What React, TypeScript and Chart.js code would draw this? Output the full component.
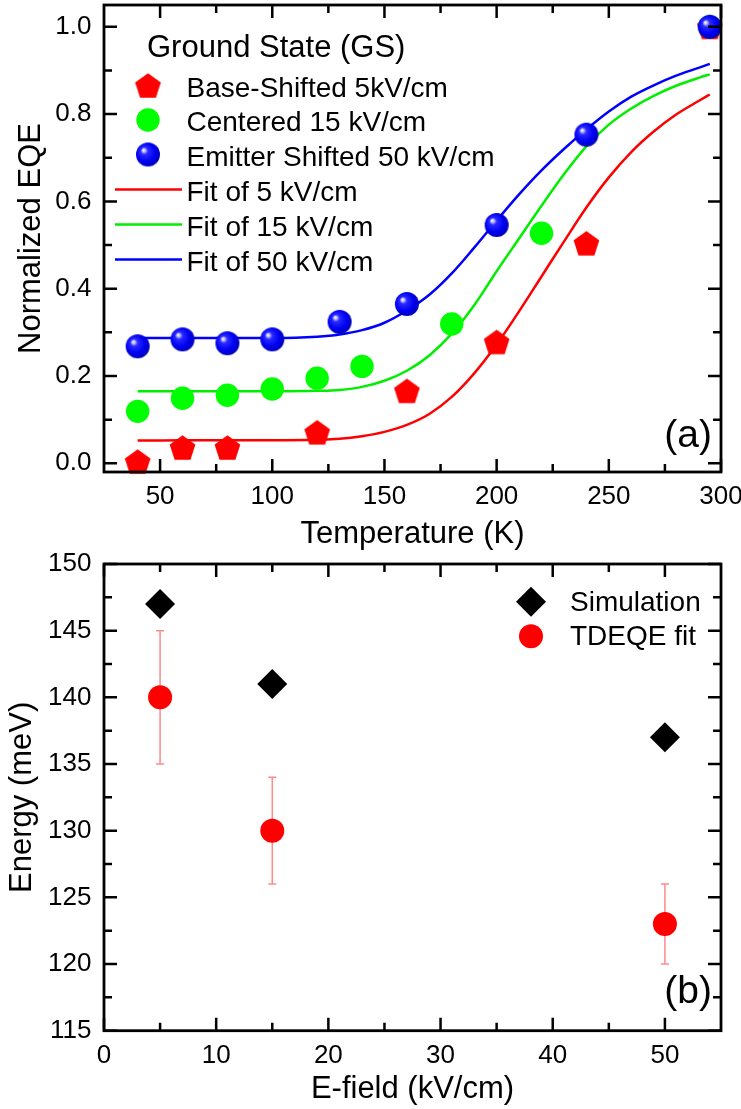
import React, { useEffect, useRef } from 'react';
import { Chart, registerables } from 'chart.js';

Chart.register(...registerables);

const FONT = '"Liberation Sans", Arial, Helvetica, sans-serif';

// ---------- Panel (a): normalized EQE vs temperature ----------
const TEMP_5 = [40, 60, 80, 120, 160, 200, 240, 295];
const EQE_5 = [0.004, 0.036, 0.036, 0.071, 0.166, 0.278, 0.504, 1.0];
const TEMP_15 = [40, 60, 80, 100, 120, 140, 180, 220, 295];
const EQE_15 = [0.119, 0.149, 0.156, 0.17, 0.195, 0.222, 0.319, 0.527, 1.0];
const TEMP_50 = [40, 60, 80, 100, 130, 160, 200, 240, 295];
const EQE_50 = [0.268, 0.284, 0.275, 0.284, 0.324, 0.365, 0.546, 0.753, 1.0];

const FIT_TEMP = [40, 60, 80, 100, 120, 130, 140, 150, 160, 170, 180, 190, 200, 210, 220, 230, 240, 250, 260, 270, 280, 290, 295];
const FIT_5 = [0.052, 0.053, 0.053, 0.053, 0.054, 0.056, 0.062, 0.072, 0.088, 0.113, 0.152, 0.206, 0.272, 0.348, 0.428, 0.508, 0.586, 0.655, 0.713, 0.76, 0.799, 0.83, 0.845];
const FIT_15 = [0.165, 0.165, 0.165, 0.165, 0.166, 0.168, 0.175, 0.189, 0.212, 0.247, 0.297, 0.362, 0.44, 0.515, 0.59, 0.662, 0.726, 0.776, 0.813, 0.842, 0.865, 0.883, 0.891];
const FIT_50 = [0.287, 0.287, 0.287, 0.287, 0.29, 0.295, 0.305, 0.322, 0.35, 0.386, 0.435, 0.494, 0.556, 0.616, 0.671, 0.72, 0.765, 0.806, 0.84, 0.866, 0.888, 0.906, 0.915];

const A_X_TICKS = [50, 100, 150, 200, 250, 300];
const A_X_MINOR = [75, 125, 175, 225, 275];
const A_Y_TICKS = [0, 0.2, 0.4, 0.6, 0.8, 1.0];
const A_Y_MINOR = [0.1, 0.3, 0.5, 0.7, 0.9];

// ---------- Panel (b): energy vs E-field ----------
const EFIELD = [5, 15, 50];
const E_SIM = [147, 141, 137];
const E_FIT = [140, 130, 123];
const E_FIT_LOW = [135, 126, 120];
const E_FIT_HIGH = [145, 134, 126];

const B_X_TICKS = [0, 10, 20, 30, 40, 50];
const B_X_MINOR = [5, 15, 25, 35, 45];
const B_Y_TICKS = [115, 120, 125, 130, 135, 140, 145, 150];
const B_Y_MINOR = [117.5, 122.5, 127.5, 132.5, 137.5, 142.5, 147.5];

const pts = (xs: number[], ys: number[]) => xs.map((x, i) => ({ x, y: ys[i] }));

function makePentagon(r: number, color: string) {
  const s = Math.ceil(r * 2 + 4);
  const c = document.createElement('canvas');
  c.width = s;
  c.height = s;
  const g = c.getContext('2d')!;
  const cx = s / 2;
  const cy = s / 2 + 0.095 * r;
  g.beginPath();
  for (let i = 0; i < 5; i++) {
    const a = -Math.PI / 2 + (i * 2 * Math.PI) / 5;
    g.lineTo(cx + r * Math.cos(a), cy + r * Math.sin(a));
  }
  g.closePath();
  g.fillStyle = color;
  g.fill();
  return c;
}

function makeSphere(r: number) {
  const s = Math.ceil(r * 2 + 2);
  const c = document.createElement('canvas');
  c.width = s;
  c.height = s;
  const g = c.getContext('2d')!;
  const cx = s / 2;
  const cy = s / 2;
  const grad = g.createRadialGradient(cx - 0.38 * r, cy - 0.38 * r, 0, cx - 0.1 * r, cy - 0.1 * r, r * 1.1);
  grad.addColorStop(0, '#ffffff');
  grad.addColorStop(0.1, '#d0d0ff');
  grad.addColorStop(0.28, '#2a2aff');
  grad.addColorStop(0.7, '#0000f4');
  grad.addColorStop(1, '#0000b8');
  g.beginPath();
  g.arc(cx, cy, r, 0, Math.PI * 2);
  g.fillStyle = grad;
  g.fill();
  return c;
}

function drawMarker(ctx: CanvasRenderingContext2D, style: any, radius: number, color: string, x: number, y: number) {
  ctx.save();
  if (style && typeof style === 'object') {
    ctx.drawImage(style, x - style.width / 2, y - style.height / 2, style.width, style.height);
  } else if (style === 'rectRot') {
    ctx.beginPath();
    ctx.moveTo(x, y - radius);
    ctx.lineTo(x + radius, y);
    ctx.lineTo(x, y + radius);
    ctx.lineTo(x - radius, y);
    ctx.closePath();
    ctx.fillStyle = color;
    ctx.fill();
  } else {
    ctx.beginPath();
    ctx.arc(x, y, radius, 0, Math.PI * 2);
    ctx.fillStyle = color;
    ctx.fill();
  }
  ctx.restore();
}

const framePlugin = {
  id: 'frameTicks',
  afterDraw(chart: any, _a: any, o: any) {
    const { ctx, chartArea: a } = chart;
    const xs = chart.scales.x;
    const ys = chart.scales.y;
    ctx.save();
    ctx.strokeStyle = '#000';
    ctx.lineWidth = 2.5;
    ctx.beginPath();
    const xt = (vals: number[], len: number) =>
      vals.forEach((v) => {
        const p = xs.getPixelForValue(v);
        ctx.moveTo(p, a.bottom);
        ctx.lineTo(p, a.bottom - len);
        ctx.moveTo(p, a.top);
        ctx.lineTo(p, a.top + len);
      });
    const yt = (vals: number[], len: number) =>
      vals.forEach((v) => {
        const p = ys.getPixelForValue(v);
        ctx.moveTo(a.left, p);
        ctx.lineTo(a.left + len, p);
        ctx.moveTo(a.right, p);
        ctx.lineTo(a.right - len, p);
      });
    xt(o.xMajor, 13);
    xt(o.xMinor, 8);
    yt(o.yMajor, 13);
    yt(o.yMinor, 8);
    ctx.stroke();
    ctx.lineWidth = 2.8;
    ctx.strokeRect(a.left, a.top, a.right - a.left, a.bottom - a.top);
    if (o.panel) {
      ctx.fillStyle = '#000';
      ctx.font = `${o.panel.size}px ${FONT}`;
      ctx.textAlign = 'right';
      ctx.textBaseline = 'alphabetic';
      ctx.fillText(o.panel.text, o.panel.x, o.panel.y);
    }
    ctx.restore();
  },
};

const legendPlugin = {
  id: 'panelLegend',
  afterDraw(chart: any, _a: any, o: any) {
    if (!o || !o.rows) return;
    const ctx = chart.ctx;
    ctx.save();
    ctx.textAlign = 'left';
    ctx.textBaseline = 'alphabetic';
    if (o.title) {
      ctx.fillStyle = '#000';
      ctx.font = `${o.titleSize}px ${FONT}`;
      ctx.fillText(o.title, o.titleX, o.titleY);
    }
    ctx.font = `${o.size}px ${FONT}`;
    o.rows.forEach((r: any) => {
      const ds = chart.data.datasets[r.index];
      const cy = r.y - o.markerRise;
      if (ds.showLine) {
        ctx.strokeStyle = ds.borderColor;
        ctx.lineWidth = ds.borderWidth;
        ctx.beginPath();
        ctx.moveTo(o.lineX0, cy);
        ctx.lineTo(o.lineX1, cy);
        ctx.stroke();
      } else {
        drawMarker(ctx, ds.pointStyle, ds.pointRadius, ds.backgroundColor, o.markerX, cy);
      }
      ctx.fillStyle = '#000';
      ctx.fillText(ds.label, o.textX, r.y);
    });
    ctx.restore();
  },
};

const errorBarPlugin = {
  id: 'errorBars',
  beforeDatasetsDraw(chart: any, _a: any, o: any) {
    if (!o || !o.xs) return;
    const { ctx } = chart;
    const xs = chart.scales.x;
    const ys = chart.scales.y;
    ctx.save();
    ctx.strokeStyle = 'rgba(255,60,60,0.6)';
    ctx.lineWidth = 1.5;
    ctx.beginPath();
    o.xs.forEach((xv: number, i: number) => {
      const px = xs.getPixelForValue(xv);
      const lo = ys.getPixelForValue(o.low[i]);
      const hi = ys.getPixelForValue(o.high[i]);
      ctx.moveTo(px, lo);
      ctx.lineTo(px, hi);
      ctx.moveTo(px - 4, lo);
      ctx.lineTo(px + 4, lo);
      ctx.moveTo(px - 4, hi);
      ctx.lineTo(px + 4, hi);
    });
    ctx.stroke();
    ctx.restore();
  },
};

function baseScales(opts: any) {
  return {
    x: {
      type: 'linear',
      min: opts.xMin,
      max: opts.xMax,
      grid: { display: false, drawTicks: false },
      border: { display: false },
      afterBuildTicks: (s: any) => {
        s.ticks = opts.xTicks.map((v: number) => ({ value: v }));
      },
      afterFit: (s: any) => {
        s.height = opts.xHeight;
        s.paddingLeft = 0;
        s.paddingRight = 0;
      },
      ticks: {
        autoSkip: false,
        maxRotation: 0,
        padding: opts.xTickPad,
        color: '#000',
        font: { size: 26, family: FONT },
        callback: (v: any) => String(v),
      },
      title: {
        display: true,
        text: opts.xTitle,
        color: '#000',
        font: { size: 31, family: FONT },
        padding: { top: 0, bottom: opts.xTitlePad },
      },
    },
    y: {
      type: 'linear',
      min: opts.yMin,
      max: opts.yMax,
      grid: { display: false, drawTicks: false },
      border: { display: false },
      afterBuildTicks: (s: any) => {
        s.ticks = opts.yTicks.map((v: number) => ({ value: v }));
      },
      afterFit: (s: any) => {
        s.width = 104;
        s.paddingTop = 0;
        s.paddingBottom = 0;
      },
      ticks: {
        autoSkip: false,
        padding: 12.5,
        color: '#000',
        font: { size: 26, family: FONT },
        callback: opts.yFormat,
      },
      title: {
        display: true,
        text: opts.yTitle,
        color: '#000',
        font: { size: 31, family: FONT },
        padding: { top: opts.yTitlePad, bottom: 0 },
      },
    },
  };
}

function configA(): any {
  const pentagon = makePentagon(13.5, '#ff0000');
  const sphere = makeSphere(12);
  return {
    type: 'scatter',
    data: {
      datasets: [
        { label: 'Emitter Shifted 50 kV/cm', data: pts(TEMP_50, EQE_50), pointStyle: sphere, pointRadius: 12, backgroundColor: '#0000ff', borderWidth: 0, order: 0, clip: false },
        { label: 'Centered 15 kV/cm', data: pts(TEMP_15, EQE_15), pointStyle: 'circle', pointRadius: 11.7, backgroundColor: '#00ff00', borderWidth: 0, order: 1, clip: false },
        { label: 'Base-Shifted 5kV/cm', data: pts(TEMP_5, EQE_5), pointStyle: pentagon, pointRadius: 13, backgroundColor: '#ff0000', borderWidth: 0, order: 2, clip: false },
        { label: 'Fit of 5 kV/cm', data: pts(FIT_TEMP, FIT_5), showLine: true, borderColor: '#ff0000', borderWidth: 2.5, pointRadius: 0, cubicInterpolationMode: 'monotone', order: 3, clip: false },
        { label: 'Fit of 15 kV/cm', data: pts(FIT_TEMP, FIT_15), showLine: true, borderColor: '#00ee00', borderWidth: 2.5, pointRadius: 0, cubicInterpolationMode: 'monotone', order: 4, clip: false },
        { label: 'Fit of 50 kV/cm', data: pts(FIT_TEMP, FIT_50), showLine: true, borderColor: '#0000ff', borderWidth: 2.5, pointRadius: 0, cubicInterpolationMode: 'monotone', order: 5, clip: false },
      ],
    },
    options: {
      responsive: false,
      animation: false,
      events: [],
      layout: { autoPadding: false, padding: { top: 5, right: 20, bottom: 0, left: 0 } },
      scales: baseScales({
        xMin: 25, xMax: 300, yMin: -0.02, yMax: 1.05,
        xTicks: A_X_TICKS, yTicks: A_Y_TICKS,
        xHeight: 83, xTickPad: 9.5, xTitle: 'Temperature (K)', xTitlePad: 2,
        yTitle: 'Normalized EQE', yTitlePad: 12.5,
        yFormat: (v: any) => Number(v).toFixed(1),
      }),
      plugins: {
        legend: { display: false },
        tooltip: { enabled: false },
        frameTicks: { xMajor: A_X_TICKS, xMinor: A_X_MINOR, yMajor: A_Y_TICKS, yMinor: A_Y_MINOR, panel: { text: '(a)', x: 712, y: 447, size: 39 } },
        panelLegend: {
          title: 'Ground State (GS)', titleSize: 31, titleX: 147, titleY: 56.5,
          size: 28, markerX: 148, lineX0: 115, lineX1: 182, textX: 186.5, markerRise: 11,
          rows: [
            { index: 2, y: 96.5 },
            { index: 1, y: 131 },
            { index: 0, y: 165.5 },
            { index: 3, y: 200.5 },
            { index: 4, y: 235.5 },
            { index: 5, y: 270.5 },
          ],
        },
      },
    },
    plugins: [framePlugin, legendPlugin],
  };
}

function configB(): any {
  return {
    type: 'scatter',
    data: {
      datasets: [
        { label: 'Simulation', data: pts(EFIELD, E_SIM), pointStyle: 'rectRot', pointRadius: 15, backgroundColor: '#000000', borderWidth: 0, order: 0, clip: false },
        { label: 'TDEQE fit', data: pts(EFIELD, E_FIT), pointStyle: 'circle', pointRadius: 12, backgroundColor: '#ff0000', borderWidth: 0, order: 1, clip: false },
      ],
    },
    options: {
      responsive: false,
      animation: false,
      events: [],
      layout: { autoPadding: false, padding: { top: 44, right: 20, bottom: 0, left: 0 } },
      scales: baseScales({
        xMin: 0, xMax: 55, yMin: 115, yMax: 150,
        xTicks: B_X_TICKS, yTicks: B_Y_TICKS,
        xHeight: 78.3, xTickPad: 10, xTitle: 'E-field (kV/cm)', xTitlePad: 1,
        yTitle: 'Energy (meV)', yTitlePad: 4,
        yFormat: (v: any) => String(v),
      }),
      plugins: {
        legend: { display: false },
        tooltip: { enabled: false },
        errorBars: { xs: EFIELD, low: E_FIT_LOW, high: E_FIT_HIGH },
        frameTicks: { xMajor: B_X_TICKS, xMinor: B_X_MINOR, yMajor: B_Y_TICKS, yMinor: B_Y_MINOR, panel: { text: '(b)', x: 712, y: 483, size: 39 } },
        panelLegend: {
          size: 28, markerX: 531, lineX0: 0, lineX1: 0, textX: 570, markerRise: 8.7,
          rows: [
            { index: 0, y: 90.5 },
            { index: 1, y: 125 },
          ],
        },
      },
    },
    plugins: [errorBarPlugin, framePlugin, legendPlugin],
  };
}

function Panel({ make, width, height, top }: { make: () => any; width: number; height: number; top: number }) {
  const ref = useRef<HTMLCanvasElement | null>(null);
  useEffect(() => {
    if (!ref.current) return;
    const chart = new Chart(ref.current, make());
    return () => chart.destroy();
  }, [make]);
  return (
    <canvas
      ref={ref}
      width={width}
      height={height}
      style={{ position: 'absolute', left: 0, top, width, height, display: 'block' }}
    />
  );
}

export default function App() {
  useEffect(() => {
    document.body.style.margin = '0';
    document.body.style.background = '#ffffff';
  }, []);
  return (
    <div style={{ position: 'absolute', left: 0, top: 0, width: 741, height: 1109, background: '#ffffff', overflow: 'hidden' }}>
      <Panel make={configA} width={741} height={555} top={0} />
      <Panel make={configB} width={741} height={589} top={520} />
    </div>
  );
}
